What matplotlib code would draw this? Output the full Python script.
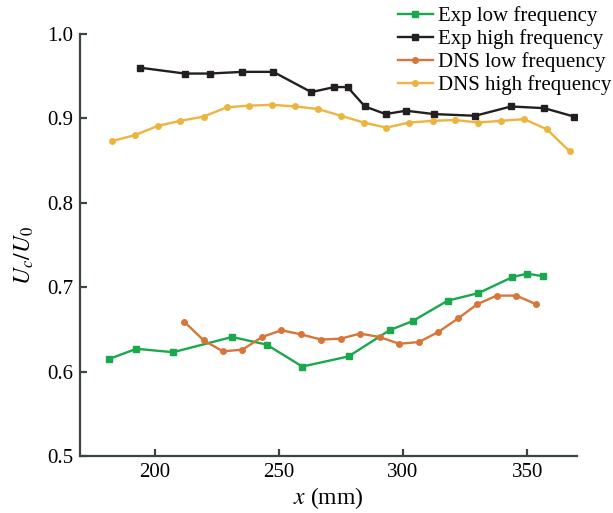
import matplotlib
matplotlib.use("Agg")
import matplotlib.pyplot as plt

plt.rcParams['font.family'] = ['Liberation Serif', 'DejaVu Serif']
plt.rcParams['mathtext.fontset'] = 'stix'

exp_low_x = [181.7, 192.7, 207.5, 231.2, 245.1, 259.5, 278.1, 294.6, 304.0, 318.0, 330.4, 344.1, 350.0, 356.4]
exp_low_y = [0.615, 0.627, 0.623, 0.641, 0.632, 0.606, 0.618, 0.649, 0.660, 0.684, 0.693, 0.712, 0.716, 0.713]

exp_high_x = [194.0, 212.2, 222.2, 235.4, 247.8, 263.1, 272.4, 277.7, 284.7, 293.0, 301.3, 312.4, 329.1, 343.5, 356.9, 368.9]
exp_high_y = [0.960, 0.953, 0.953, 0.955, 0.955, 0.931, 0.937, 0.937, 0.914, 0.905, 0.909, 0.905, 0.903, 0.914, 0.912, 0.902]

dns_low_x = [212.0, 219.8, 227.5, 235.4, 243.3, 251.1, 259.1, 267.0, 274.9, 282.7, 290.6, 298.5, 306.4, 314.3, 322.2, 330.0, 337.8, 345.7, 353.4]
dns_low_y = [0.659, 0.637, 0.624, 0.626, 0.641, 0.649, 0.644, 0.638, 0.639, 0.645, 0.641, 0.633, 0.635, 0.647, 0.663, 0.680, 0.690, 0.690, 0.680]

dns_high_x = [182.8, 192.1, 201.3, 210.4, 219.8, 229.0, 238.2, 247.4, 256.7, 265.8, 275.0, 284.2, 293.3, 302.6, 312.0, 321.1, 330.3, 339.5, 348.8, 357.9, 367.1]
dns_high_y = [0.873, 0.880, 0.891, 0.897, 0.902, 0.913, 0.915, 0.916, 0.914, 0.911, 0.903, 0.895, 0.889, 0.895, 0.897, 0.898, 0.895, 0.897, 0.899, 0.887, 0.861]

x_ticks = [200, 250, 300, 350]
y_ticks = [0.5, 0.6, 0.7, 0.8, 0.9, 1.0]

fig = plt.figure(figsize=(6.13, 5.13), dpi=100)
ax = fig.add_axes([0.1305, 0.111, 0.8105, 0.823])

ax.plot(exp_low_x, exp_low_y, '-s', color='#1aa84c', lw=1.7, ms=4.5, label='Exp low frequency')
ax.plot(exp_high_x, exp_high_y, '-s', color='#231f20', lw=1.7, ms=4.5, label='Exp high frequency')
ax.plot(dns_low_x, dns_low_y, '-o', color='#d7763a', lw=1.7, ms=4.0, label='DNS low frequency')
ax.plot(dns_high_x, dns_high_y, '-o', color='#edb43e', lw=1.7, ms=4.0, label='DNS high frequency')

ax.set_xlim(170, 370)
ax.set_ylim(0.5, 1.0)
ax.set_xticks(x_ticks)
ax.set_yticks(y_ticks)
ax.set_yticklabels([f"{v:.1f}" for v in y_ticks])

for s in ['top', 'right']:
    ax.spines[s].set_visible(False)
for s in ['left', 'bottom']:
    ax.spines[s].set_color('#3c4444')
    ax.spines[s].set_linewidth(1.6)
ax.tick_params(direction='in', length=5, width=1.6, color='#3c4444', labelsize=15, pad=5)

ax.set_xlabel('$x$ (mm)', fontsize=17, labelpad=2)
ax.set_ylabel('$U_c/U_0$', fontsize=17)
ax.yaxis.set_label_coords(-0.088, 0.475)

fig.legend(loc='upper right', bbox_to_anchor=(1.018, 1.012), frameon=False, fontsize=15,
           handlelength=1.7, handletextpad=0.25, labelspacing=0.15, borderaxespad=0.2)

fig.savefig('out.png', dpi=100)
